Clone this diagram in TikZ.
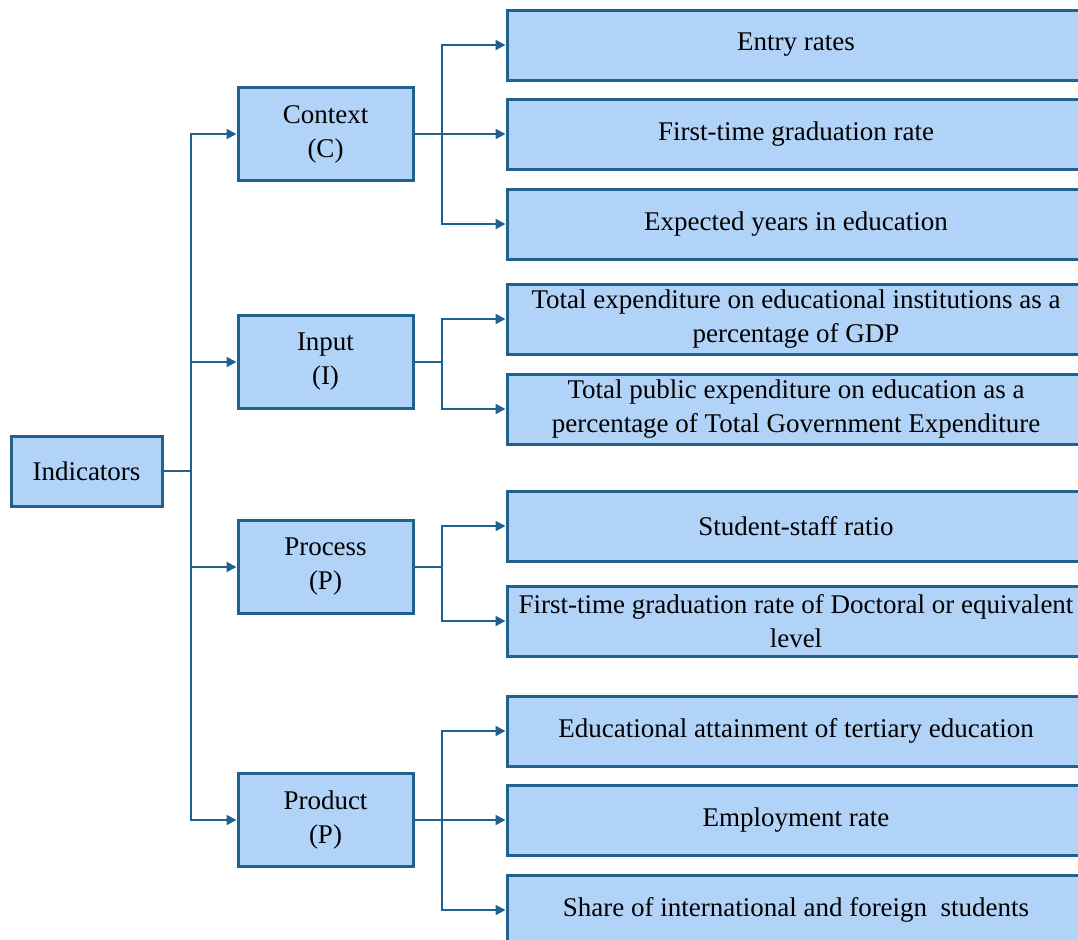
\documentclass[tikz,border=0pt]{standalone}
\usepackage{fontspec}
\setmainfont{Liberation Serif}
\usetikzlibrary{arrows.meta}
\definecolor{boxfill}{HTML}{B1D3F7}
\definecolor{boxline}{HTML}{20618F}
\tikzset{
	box/.style={draw=boxline,fill=boxfill,line width=1.5pt,align=center,inner sep=0pt,font=\fontsize{13.5}{17}\selectfont},
	catbox/.style={box,minimum width=87.5pt,minimum height=46.5pt},
	leafbox/.style={box,minimum width=289pt,minimum height=35pt},
	link/.style={draw=boxline,line width=1pt,-{Triangle[length=5pt,width=5pt]}}
}
\begin{document}
\begin{tikzpicture}[x=0.5pt,y=-0.5pt]
	\useasboundingbox (0,0) rectangle (1078,939);
	\clip (0,0) rectangle (1078,939);
	\node[box,minimum width=75.5pt,minimum height=35pt] (ind) at (86.5,471) {Indicators};
	\begin{scope}[every node/.style={catbox}]
	\node (ctx) at (325.5,134) {Context\\(C)};
	\node (inp) at (325.5,362) {Input\\(I)};
	\node (proc) at (325.5,567) {Process\\(P)};
	\node (prod) at (325.5,820) {Product\\(P)};
	\end{scope}
	\begin{scope}[every node/.style={leafbox}]
	\node (entry) at (796,45) {Entry rates};
	\node (grad) at (796,134) {First-time graduation rate};
	\node (years) at (796,224) {Expected years in education};
	\node (gdp) at (796,319) {Total expenditure on educational institutions as a\\percentage of GDP};
	\node (pub) at (796,409) {Total public expenditure on education as a\\percentage of Total Government Expenditure};
	\node (staff) at (796,526) {Student-staff ratio};
	\node (doct) at (796,621) {First-time graduation rate of Doctoral or equivalent\\level};
	\node (attain) at (796,731) {Educational attainment of tertiary education};
	\node (empl) at (796,820) {Employment rate};
	\node (share) at (796,910) {Share of international and foreign\ \ students};
	\end{scope}
	% indicators to categories
	\foreach \c in {ctx,inp,proc,prod}
		\draw[link] (ind.east) -- ++(27,0) |- (\c.west);
	% categories to indicators
	\foreach \c/\l in {ctx/entry,ctx/grad,ctx/years,inp/gdp,inp/pub,proc/staff,proc/doct,prod/attain,prod/empl,prod/share}
		\draw[link] (\c.east) -- ++(27,0) |- (\l.west);
\end{tikzpicture}
\end{document}
